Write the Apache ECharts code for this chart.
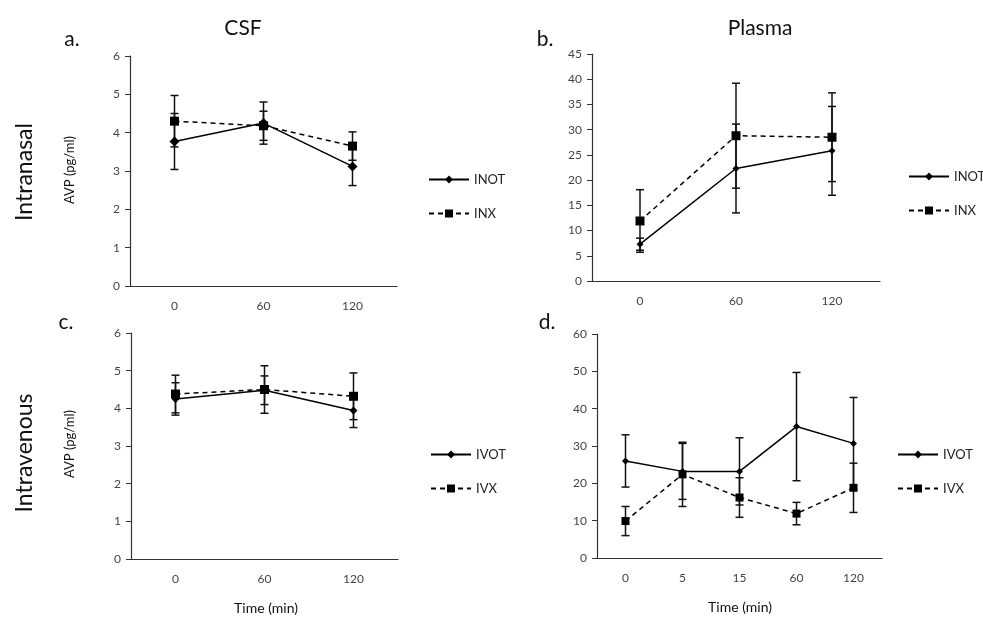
<!DOCTYPE html>
<html>
<head>
<meta charset="utf-8">
<script src="https://cdn.jsdelivr.net/npm/echarts@6/dist/echarts.min.js"></script>
</head>
<body style="margin:0">
<div id="container" style="width:983px;height:618px"></div>
<script type="text/javascript">
    // time points
    var timesShort = ['0', '60', '120'];
    var timesLong = ['0', '5', '15', '60', '120'];

    // a. intranasal CSF
    var inotCsf = [3.77, 4.25, 3.12];
    var inotCsfErr = [0.73, 0.55, 0.5];
    var inxCsf = [4.3, 4.18, 3.65];
    var inxCsfErr = [0.67, 0.38, 0.37];

    // b. intranasal plasma
    var inotPl = [7.3, 22.3, 25.8];
    var inotPlErr = [1.2, 8.8, 8.8];
    var inxPl = [11.9, 28.8, 28.5];
    var inxPlErr = [6.2, 10.4, 8.8];

    // c. intravenous CSF
    var ivotCsf = [4.25, 4.48, 3.94];
    var ivotCsfErr = [0.43, 0.38, 0.45];
    var ivxCsf = [4.38, 4.5, 4.32];
    var ivxCsfErr = [0.5, 0.63, 0.62];

    // d. intravenous plasma
    var ivotPl = [26, 23.2, 23.2, 35.2, 30.7];
    var ivotPlErr = [7, 7.5, 9, 14.5, 12.3];
    var ivxPl = [9.9, 22.4, 16.2, 11.9, 18.8];
    var ivxPlErr = [3.9, 8.6, 5.3, 3, 6.6];

    var FONT = 'Lato';
    var myChart = echarts.init(document.getElementById('container'));

    function errData(mean, err) {
        return mean.map(function (m, i) { return [i, m - err[i], m + err[i]]; });
    }
    function errRender(params, api) {
        var x = api.value(0);
        var lo = api.coord([x, api.value(1)]);
        var hi = api.coord([x, api.value(2)]);
        var w = 4;
        var st = {stroke: '#111', lineWidth: 1.5};
        return {
            type: 'group',
            children: [
                {type: 'line', shape: {x1: lo[0], y1: lo[1], x2: hi[0], y2: hi[1]}, style: st},
                {type: 'line', shape: {x1: lo[0] - w, y1: lo[1], x2: lo[0] + w, y2: lo[1]}, style: st},
                {type: 'line', shape: {x1: hi[0] - w, y1: hi[1], x2: hi[0] + w, y2: hi[1]}, style: st}
            ]
        };
    }
    function errSeries(idx, mean, err) {
        return {
            type: 'custom', xAxisIndex: idx, yAxisIndex: idx,
            renderItem: errRender, data: errData(mean, err), z: 1, silent: true
        };
    }
    function lineSeries(idx, name, data, dashed, size) {
        return {
            name: name, type: 'line', xAxisIndex: idx, yAxisIndex: idx, data: data,
            symbol: dashed ? 'rect' : 'diamond',
            symbolSize: size,
            itemStyle: {color: '#000'},
            lineStyle: {color: '#000', width: 1.5, type: dashed ? [5, 4] : 'solid'},
            z: 3, animation: false
        };
    }
    function xAx(idx, cats) {
        return {
            type: 'category', gridIndex: idx, data: cats, boundaryGap: true,
            axisLine: {lineStyle: {color: '#333', width: 1.2}},
            axisTick: {length: 5, lineStyle: {color: '#333'}},
            axisLabel: {color: '#444', fontSize: 12, fontFamily: FONT, margin: 14},
            splitLine: {show: false}
        };
    }
    function yAx(idx, max, interval) {
        return {
            type: 'value', gridIndex: idx, min: 0, max: max, interval: interval,
            axisLine: {show: true, lineStyle: {color: '#333', width: 1.2}},
            axisTick: {show: true, length: 5, lineStyle: {color: '#333'}},
            axisLabel: {color: '#444', fontSize: 12, fontFamily: FONT, margin: 10},
            splitLine: {show: false}
        };
    }
    function legend(left, top, names) {
        return {
            orient: 'vertical', left: left, top: top, data: names,
            itemWidth: 40, itemHeight: 10, itemGap: 21,
            textStyle: {color: '#222', fontSize: 13, fontFamily: FONT}
        };
    }
    function txt(x, y, s, size, rot) {
        return {
            type: 'text', x: x, y: y, rotation: rot || 0,
            style: {text: s, fontSize: size, fontFamily: FONT, fill: '#111', align: 'center', verticalAlign: 'middle'}
        };
    }

    var option = {
        backgroundColor: '#fff',
        animation: false,
        grid: [
            {left: 130, top: 56, width: 267, height: 230},
            {left: 592, top: 54, width: 288, height: 227},
            {left: 131, top: 333, width: 267, height: 226},
            {left: 597, top: 334, width: 285, height: 224}
        ],
        xAxis: [xAx(0, timesShort), xAx(1, timesShort), xAx(2, timesShort), xAx(3, timesLong)],
        yAxis: [yAx(0, 6, 1), yAx(1, 45, 5), yAx(2, 6, 1), yAx(3, 60, 10)],
        legend: [
            legend(423, 168, ['INOT', 'INX']),
            legend(903, 165, ['INOT', 'INX']),
            legend(425, 443, ['IVOT', 'IVX']),
            legend(892, 443, ['IVOT', 'IVX'])
        ],
        graphic: [
            txt(243, 28, 'CSF', 21),
            txt(760, 28, 'Plasma', 21),
            txt(72, 39, 'a.', 21),
            txt(545, 39, 'b.', 21),
            txt(66, 322, 'c.', 21),
            txt(547, 322, 'd.', 21),
            txt(25, 172, 'Intranasal', 23, Math.PI / 2),
            txt(25, 453, 'Intravenous', 23, Math.PI / 2),
            txt(70, 170, 'AVP (pg/ml)', 13, Math.PI / 2),
            txt(70, 444, 'AVP (pg/ml)', 13, Math.PI / 2),
            txt(266, 608, 'Time (min)', 14),
            txt(740, 607, 'Time (min)', 14)
        ],
        series: [
            errSeries(0, inotCsf, inotCsfErr),
            errSeries(0, inxCsf, inxCsfErr),
            lineSeries(0, 'INOT', inotCsf, false, 10),
            lineSeries(0, 'INX', inxCsf, true, 9),

            errSeries(1, inotPl, inotPlErr),
            errSeries(1, inxPl, inxPlErr),
            lineSeries(1, 'INOT', inotPl, false, 7),
            lineSeries(1, 'INX', inxPl, true, 9),

            errSeries(2, ivotCsf, ivotCsfErr),
            errSeries(2, ivxCsf, ivxCsfErr),
            lineSeries(2, 'IVOT', ivotCsf, false, 8),
            lineSeries(2, 'IVX', ivxCsf, true, 9),

            errSeries(3, ivotPl, ivotPlErr),
            errSeries(3, ivxPl, ivxPlErr),
            lineSeries(3, 'IVOT', ivotPl, false, 7),
            lineSeries(3, 'IVX', ivxPl, true, 8)
        ]
    };
    myChart.setOption(option);
</script>
</body>
</html>
